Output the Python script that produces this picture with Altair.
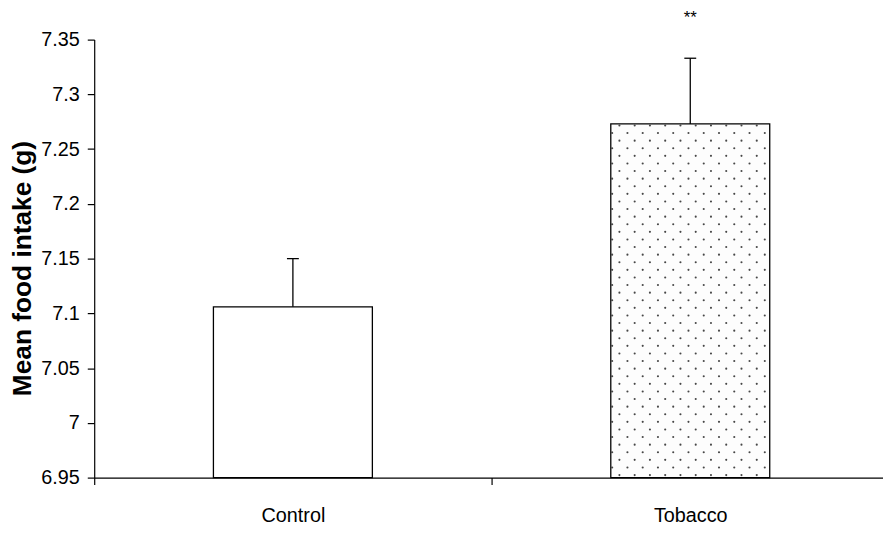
import json
import altair as alt
import pandas as pd

# ---- data ----
groups = ["Control", "Tobacco"]
means = [7.106, 7.273]
sems = [0.044, 0.060]
signif = ["", "**"]
y_ticks = [6.95, 7.0, 7.05, 7.1, 7.15, 7.2, 7.25, 7.3, 7.35]

# ---- styling ----
fills = ["#ffffff", "#fdfdfd"]
FONT = "Liberation Sans"
PLOT_W, PLOT_H = 796, 442
X_RANGE = 802            # category slots continue past the right window edge
SLOT_PX = X_RANGE / len(groups)
BAR_FRAC = 0.4
CAP_HALF = 6 / SLOT_PX
# dot texture of the Tobacco bar (pixel spacing -> data units)
px_per_unit = PLOT_H / (y_ticks[-1] - y_ticks[0])
row_step = 7.67 / px_per_unit
col_step = 15.4 / SLOT_PX
off_a, off_b = 8.7 / SLOT_PX, 1.4 / SLOT_PX

df = pd.DataFrame({"group": groups, "mean": means, "sem": sems, "mark": signif})
df["slot"] = [i + 0.5 for i in range(len(groups))]
df["top"] = df["mean"] + df["sem"]
df["base"] = y_ticks[0]

x_scale = alt.Scale(domain=[0, len(groups)], range=[0, X_RANGE], nice=False, zero=False)
y_scale = alt.Scale(domain=[y_ticks[0], y_ticks[-1]], nice=False, zero=False)

x_axis = alt.Axis(values=list(range(len(groups))), labelExpr=f"{json.dumps(groups)}[datum.value]",
                  labelOffset=SLOT_PX / 2, title=None, grid=False, labelAngle=0,
                  labelFlush=False, labelOverlap=False, tickSize=7, labelPadding=21,
                  labelFontSize=20, labelFont=FONT)
y_axis = alt.Axis(values=y_ticks, format="~g", title="Mean food intake (g)", grid=False,
                  labelFlush=False, labelOverlap=False,
                  tickSize=7, labelPadding=8, labelFontSize=20, labelFont=FONT,
                  titleFont=FONT, titleFontWeight="bold", titleFontSize=26.5,
                  titleAngle=270, titleBaseline="alphabetic", titleX=-64, titleY=230.5)

base = alt.Chart(df)

bars = base.transform_calculate(
    x0=f"datum.slot - {BAR_FRAC / 2}", x1=f"datum.slot + {BAR_FRAC / 2}"
).mark_bar(stroke="black", strokeWidth=1.3).encode(
    x=alt.X("x0:Q", scale=x_scale, axis=x_axis),
    x2="x1:Q",
    y=alt.Y("mean:Q", scale=y_scale, axis=y_axis),
    y2="base:Q",
    fill=alt.Color("group:N", scale=alt.Scale(domain=groups, range=fills), legend=None),
)

texture = base.transform_filter(alt.datum.mark == "**").transform_calculate(
    row="sequence(0, 60)"
).transform_flatten(["row"]).transform_calculate(
    col="sequence(0, 12)"
).transform_flatten(["col"]).transform_calculate(
    yv=f"datum.mean - (datum.row + 0.2) * {row_step}",
    u=f"(datum.row % 2 == 0 ? {off_a} : {off_b}) + datum.col * {col_step}",
).transform_filter(
    (alt.datum.u < BAR_FRAC - 0.002) & (alt.datum.yv > y_ticks[0] + 0.0005)
).transform_calculate(
    xv=f"datum.slot - {BAR_FRAC / 2} + datum.u"
).mark_point(filled=True, size=4.5, color="#333333", opacity=0.9).encode(
    x=alt.X("xv:Q", scale=x_scale),
    y=alt.Y("yv:Q", scale=y_scale),
)

err = base.mark_rule(color="black", strokeWidth=1.3).encode(
    x=alt.X("slot:Q", scale=x_scale),
    y=alt.Y("mean:Q", scale=y_scale),
    y2="top:Q",
)
cap = base.transform_calculate(
    c0=f"datum.slot - {CAP_HALF}", c1=f"datum.slot + {CAP_HALF}"
).mark_rule(color="black", strokeWidth=1.3).encode(
    x=alt.X("c0:Q", scale=x_scale),
    x2="c1:Q",
    y=alt.Y("top:Q", scale=y_scale),
)
stars = base.mark_text(dy=-36, fontSize=17, font=FONT, baseline="alphabetic", color="black").encode(
    x=alt.X("slot:Q", scale=x_scale),
    y=alt.Y("top:Q", scale=y_scale),
    text="mark:N",
)

chart = alt.layer(bars, texture, err, cap, stars).properties(
    width=PLOT_W, height=PLOT_H,
    autosize=alt.AutoSizeParams(type="none"),
    padding={"left": 87, "top": 29.5, "right": 0, "bottom": 55},
).configure_view(stroke=None).configure_axis(
    domainColor="black", tickColor="black", labelColor="black", titleColor="black",
    domainWidth=1.2, tickWidth=1.2,
)

chart.save("out.html", embed_options={"renderer": "svg", "actions": False})
